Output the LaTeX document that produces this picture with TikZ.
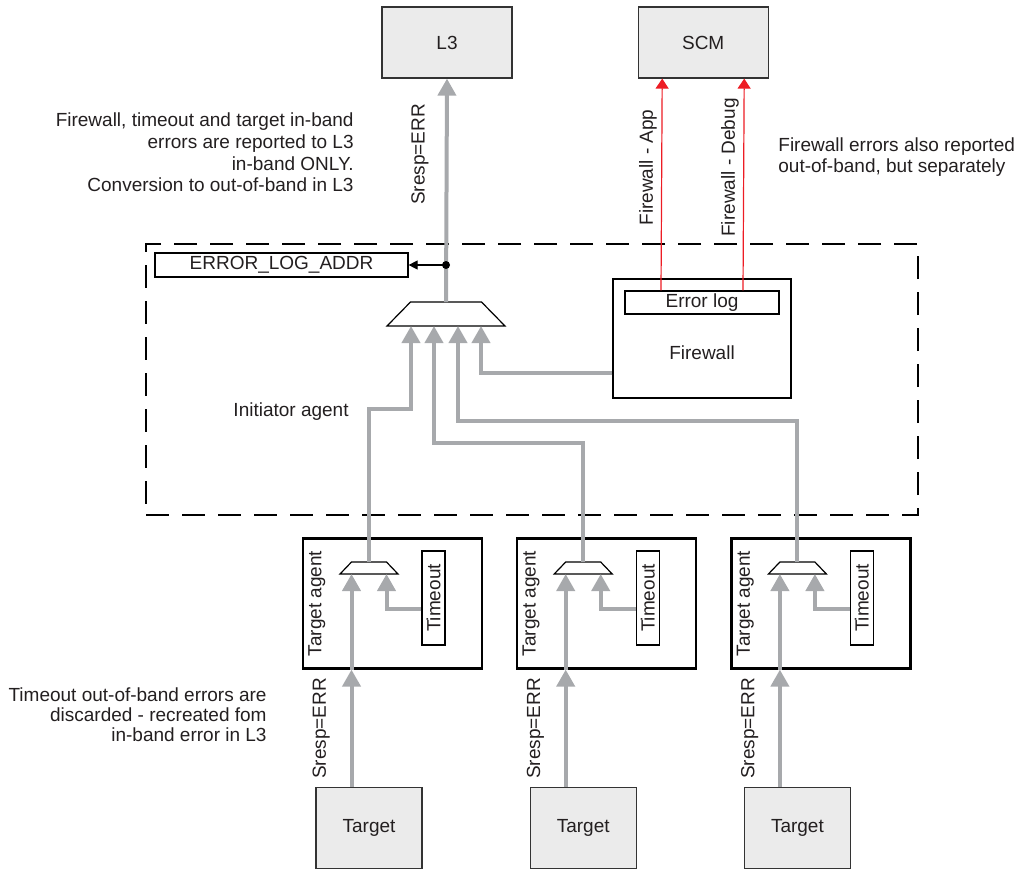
\documentclass[tikz,border=0pt]{standalone}
\usepackage{fontspec}
\setmainfont{Liberation Sans}
\usepackage{graphicx}
\usepackage{xcolor}
\usetikzlibrary{arrows.meta, positioning}
\definecolor{boxgray}{RGB}{235,235,235}
\definecolor{linegray}{RGB}{167,169,172}
\definecolor{errred}{RGB}{237,28,36}
\definecolor{txt}{RGB}{35,31,32}

\begin{document}
\begin{tikzpicture}[
    x=0.5pt, y=-0.5pt,
    every node/.style={font=\fontsize{9.5}{11}\selectfont, text=txt},
    greybox/.style={draw=black!80, fill=boxgray, line width=0.6pt, minimum width=65pt, minimum height=35.5pt},
    target/.style={greybox, minimum width=53pt, minimum height=40.5pt},
    agent/.style={draw=black, line width=1.1pt, minimum width=89.5pt, minimum height=65pt},
    regbox/.style={draw=black, line width=0.6pt, inner sep=0pt},
    tobox/.style={regbox, minimum width=11.5pt, minimum height=47pt},
    mux/.style={inner sep=0pt, outer sep=0pt, minimum height=12pt, minimum width=59pt},
    smallmux/.style={mux, minimum height=6pt, minimum width=29pt},
    muxline/.style={draw=black, line width=0.6pt, line join=miter},
    dashbox/.style={draw=black, line width=1.3pt, dash pattern=on 11.5pt off 6.5pt},
    garrow/.style={draw=linegray, line width=2pt, -{Triangle[width=9pt,length=8.5pt]}},
    rarrow/.style={draw=errred, line width=0.6pt, -{Triangle[width=6.5pt,length=5pt]}},
    barrow/.style={draw=black, line width=0.6pt, -{Triangle[width=4.5pt,length=4.5pt]}},
    sresp/.style={rotate=90, anchor=south, inner xsep=0pt, inner ysep=9.8pt},
    fwlbl/.style={rotate=90, anchor=south, inner xsep=0pt, inner ysep=2.2pt}
]
\useasboundingbox (0,0) rectangle (1021,869);

% Nodes
\node[greybox] (l3) at (447,42.5) {L3};
\node[greybox, right=62.5pt of l3] (scm) {SCM};

\node[dashbox, minimum width=386pt, minimum height=135.5pt] (init) at (532,379.5) {};
\node[anchor=east, inner sep=0pt] (initlbl) at (349,412) {Initiator agent};
\node[regbox, minimum width=126.5pt, minimum height=12pt] (ela) at (281.5,265) {ERROR\_LOG\_ADDR};
\node[mux] (imux) at (446,314) {};
\node[regbox, line width=0.7pt, minimum width=89pt, minimum height=59.5pt, label={[yshift=-7.25pt]center:Firewall}] (fw) at (702,338.5) {};
\node[regbox, minimum width=77pt, minimum height=11.5pt, below=6pt of fw.north] (errlog) {Error log};

\node[agent] (agentA) at (392.5,603.5) {};
\node[agent, right=16.5pt of agentA] (agentB) {};
\node[agent, right=16.5pt of agentB] (agentC) {};

\node[rotate=90] (taA) at ([xshift=7.5pt]agentA.west) {Target agent};
\node[rotate=90] (taB) at ([xshift=7.5pt]agentB.west) {Target agent};
\node[rotate=90] (taC) at ([xshift=7.5pt]agentC.west) {Target agent};

\node[smallmux] (amuxA) at ([shift={(-11.75pt,17.75pt)}]agentA.center) {};
\node[smallmux] (amuxB) at ([shift={(-11.75pt,17.75pt)}]agentB.center) {};
\node[smallmux] (amuxC) at ([shift={(-11.75pt,17.75pt)}]agentC.center) {};

\node[tobox] (toA) at ([shift={(20.5pt,2.75pt)}]agentA.center) {\rotatebox{90}{Timeout}};
\node[tobox] (toB) at ([shift={(20.5pt,2.75pt)}]agentB.center) {\rotatebox{90}{Timeout}};
\node[tobox] (toC) at ([shift={(20.5pt,2.75pt)}]agentC.center) {\rotatebox{90}{Timeout}};

\node[target, below=106.5pt of amuxA] (tgtA) {Target};
\node[target, below=106.5pt of amuxB] (tgtB) {Target};
\node[target, below=106.5pt of amuxC] (tgtC) {Target};

% Mux outlines
\draw[muxline] (imux.south west) -- ([xshift=11.75pt]imux.north west) -- ([xshift=-11.75pt]imux.north east) -- (imux.south east) -- cycle;
\draw[muxline] (amuxA.south west) -- ([xshift=5.75pt]amuxA.north west) -- ([xshift=-5.75pt]amuxA.north east) -- (amuxA.south east) -- cycle;
\draw[muxline] (amuxB.south west) -- ([xshift=5.75pt]amuxB.north west) -- ([xshift=-5.75pt]amuxB.north east) -- (amuxB.south east) -- cycle;
\draw[muxline] (amuxC.south west) -- ([xshift=5.75pt]amuxC.north west) -- ([xshift=-5.75pt]amuxC.north east) -- (amuxC.south east) -- cycle;

% Notes
\node[anchor=east, align=right, inner sep=0pt, font=\fontsize{9.5}{10.85}\selectfont] (notel3) at (354,152.5)
  {Firewall, timeout and target in-band\\errors are reported to L3\\in-band ONLY.\\Conversion to out-of-band in L3};
\node[anchor=west, align=left, inner sep=0pt, font=\fontsize{9.5}{10.5}\selectfont] (notefw) at (778,157.5)
  {Firewall errors also reported\\out-of-band, but separately};
\node[anchor=east, align=right, inner sep=0pt, font=\fontsize{9.5}{10}\selectfont] (noteto) at (267,715)
  {Timeout out-of-band errors are\\discarded - recreated fom\\in-band error in L3};

% Mux inputs
\coordinate (iin1) at ([xshift=-17.5pt]imux.south);
\coordinate (iin2) at ([xshift=-6pt]imux.south);
\coordinate (iin3) at ([xshift=6pt]imux.south);
\coordinate (iin4) at ([xshift=17.5pt]imux.south);
\coordinate (aA1) at ([xshift=-8.75pt]amuxA.south);
\coordinate (aA2) at ([xshift=8.75pt]amuxA.south);
\coordinate (aB1) at ([xshift=-8.75pt]amuxB.south);
\coordinate (aB2) at ([xshift=8.75pt]amuxB.south);
\coordinate (aC1) at ([xshift=-8.75pt]amuxC.south);
\coordinate (aC2) at ([xshift=8.75pt]amuxC.south);

% Connections
\draw[garrow] (tgtA.north -| aA1) -- node[sresp] {Sresp=ERR} (agentA.south -| aA1);
\draw[garrow] (tgtB.north -| aB1) -- node[sresp] {Sresp=ERR} (agentB.south -| aB1);
\draw[garrow] (tgtC.north -| aC1) -- node[sresp] {Sresp=ERR} (agentC.south -| aC1);
\draw[garrow] (agentA.south -| aA1) -- (aA1);
\draw[garrow] (agentB.south -| aB1) -- (aB1);
\draw[garrow] (agentC.south -| aC1) -- (aC1);
\draw[garrow] ([yshift=-5.5pt]toA.west) -| (aA2);
\draw[garrow] ([yshift=-5.5pt]toB.west) -| (aB2);
\draw[garrow] ([yshift=-5.5pt]toC.west) -| (aC2);

\draw[garrow] (amuxA.north) |- ([yshift=-41.5pt]iin1) -- (iin1);
\draw[garrow] (amuxB.north) |- ([yshift=-58.5pt]iin2) -- (iin2);
\draw[garrow] (amuxC.north) |- ([yshift=-47.5pt]iin3) -- (iin3);
\draw[garrow] ([yshift=-17.25pt]fw.west) -| (iin4);

\draw[garrow] (imux.north) -- node[sresp, pos=0.66, inner ysep=8pt] {Sresp=ERR} (l3.south);
\coordinate (tap) at (imux.north |- ela.east);
\draw[barrow] (tap) -- (ela.east);
\fill (tap) circle (2pt);

\draw[rarrow] ([xshift=-20.5pt]errlog.north) -- node[fwlbl, pos=0.58] {Firewall - App} ([xshift=-20.5pt]scm.south);
\draw[rarrow] ([xshift=20.5pt]errlog.north) -- node[fwlbl, pos=0.58] {Firewall - Debug} ([xshift=20.5pt]scm.south);

\end{tikzpicture}
\end{document}
